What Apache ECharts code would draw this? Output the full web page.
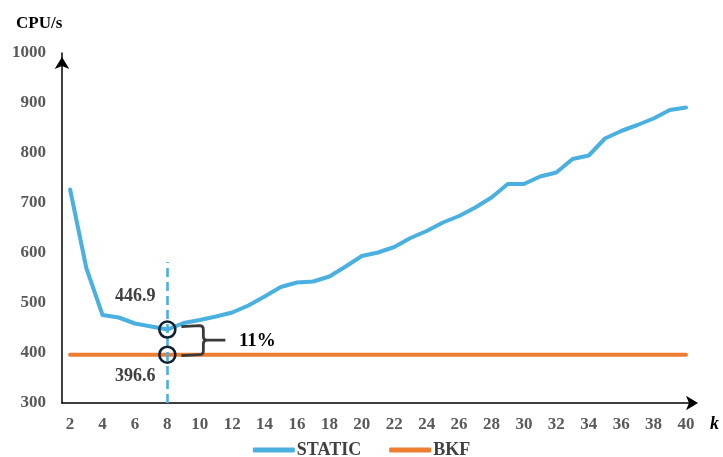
<!DOCTYPE html>
<html>
<head>
<meta charset="utf-8">
<script src="https://cdn.jsdelivr.net/npm/echarts@6/dist/echarts.min.js"></script>
<style>
  html, body { margin: 0; padding: 0; background: #fff; }
  #chart { width: 723px; height: 457px; }
</style>
</head>
<body>
<div id="chart"></div>
<script>
// Number of clusters k
const kValues = [2, 3, 4, 5, 6, 7, 8, 9, 10, 11, 12, 13, 14, 15, 16, 17, 18, 19, 20,
  21, 22, 23, 24, 25, 26, 27, 28, 29, 30, 31, 32, 33, 34, 35, 36, 37, 38, 39, 40];
// CPU time (s) of the STATIC strategy for each k
const staticCpu = [727, 570, 476, 471, 459, 453, 446.9, 460, 466, 473, 481, 495, 513, 532,
  541, 543, 553, 573, 594, 601, 612, 630, 644, 661, 674, 691, 711, 738, 738, 753, 761,
  788, 795, 829, 844, 856, 869, 886, 891];
// CPU time (s) of BKF, independent of k
const bkfCpu = [396.6, 396.6, 396.6, 396.6, 396.6, 396.6, 396.6, 396.6, 396.6, 396.6,
  396.6, 396.6, 396.6, 396.6, 396.6, 396.6, 396.6, 396.6, 396.6, 396.6, 396.6, 396.6,
  396.6, 396.6, 396.6, 396.6, 396.6, 396.6, 396.6, 396.6, 396.6, 396.6, 396.6, 396.6,
  396.6, 396.6, 396.6, 396.6, 396.6];
// Tick labels
const xTicks = [2, 4, 6, 8, 10, 12, 14, 16, 18, 20, 22, 24, 26, 28, 30, 32, 34, 36, 38, 40];
// Highlighted comparison at k = 8
const focusK = 8;
const focusStatic = 446.9;
const focusBkf = 396.6;
const gapLabel = '11%';
const guideTop = 582;

const SERIF = '"Liberation Serif", "Times New Roman", serif';
const BLUE = '#49B0E0';
const ORANGE = '#ED7D31';

const chart = echarts.init(document.getElementById('chart'));

chart.setOption({
  animation: false,
  backgroundColor: '#fff',
  title: {
    text: 'CPU/s',
    left: 11,
    top: 10,
    textStyle: { fontFamily: SERIF, fontWeight: 'bold', fontSize: 17, color: '#000' }
  },
  grid: { left: 62, right: 31, top: 53, bottom: 54, containLabel: false },
  legend: {
    data: ['STATIC', 'BKF'],
    top: 441,
    left: 'center',
    padding: 0,
    icon: 'roundRect',
    itemWidth: 42,
    itemHeight: 5,
    itemGap: 28,
    textStyle: { fontFamily: SERIF, fontWeight: 'bold', fontSize: 18, color: '#404040', padding: [0, 0, 0, -3] }
  },
  xAxis: {
    type: 'value',
    min: 1.5,
    max: 40.37,
    name: 'k',
    nameLocation: 'end',
    nameGap: 18,
    nameTextStyle: {
      fontFamily: SERIF, fontWeight: 'bold', fontStyle: 'italic', fontSize: 18,
      color: '#000', verticalAlign: 'top', padding: [12, 0, 0, 0]
    },
    axisLine: {
      show: true,
      lineStyle: { color: '#000', width: 1.5 },
      symbol: ['none', 'arrow'],
      symbolSize: [11, 12],
      symbolOffset: [0, 6]
    },
    axisTick: { show: false },
    splitLine: { show: false },
    axisLabel: {
      customValues: xTicks,
      margin: 13,
      fontFamily: SERIF, fontWeight: 'bold', fontSize: 17, color: '#595959'
    }
  },
  yAxis: {
    type: 'value',
    min: 300,
    max: 1000,
    interval: 100,
    axisLine: {
      show: true,
      lineStyle: { color: '#000', width: 1.5 },
      symbol: ['none', 'arrow'],
      symbolSize: [11, 12],
      symbolOffset: [0, -4]
    },
    axisTick: { show: false },
    splitLine: { show: false },
    axisLabel: {
      margin: 16,
      formatter: v => String(v),
      fontFamily: SERIF, fontWeight: 'bold', fontSize: 17, color: '#595959'
    }
  },
  series: [
    {
      name: 'STATIC',
      type: 'line',
      data: kValues.map((k, i) => [k, staticCpu[i]]),
      showSymbol: false,
      lineStyle: { color: BLUE, width: 4, cap: 'round', join: 'round' },
      itemStyle: { color: BLUE },
      z: 3
    },
    {
      name: 'BKF',
      type: 'line',
      data: kValues.map((k, i) => [k, bkfCpu[i]]),
      showSymbol: false,
      lineStyle: { color: ORANGE, width: 4, cap: 'round' },
      itemStyle: { color: ORANGE },
      z: 2
    },
    {
      // Circled points at k = 8 with their values
      name: 'focus',
      type: 'scatter',
      symbol: 'circle',
      symbolSize: 16,
      itemStyle: { color: 'rgba(0,0,0,0)', borderColor: '#0F2233', borderWidth: 2.6, opacity: 1 },
      z: 5,
      data: [
        { value: [focusK, focusStatic], label: { offset: [-32, -33] } },
        { value: [focusK, focusBkf], label: { offset: [-32, 22] } }
      ],
      label: {
        show: true,
        position: 'inside',
        formatter: p => p.value[1].toFixed(1),
        fontFamily: SERIF, fontWeight: 'bold', fontSize: 18, color: '#404040'
      },
      markLine: {
        silent: true,
        symbol: 'none',
        label: { show: false },
        lineStyle: { color: BLUE, width: 2.6, type: [9, 5], opacity: 1 },
        data: [[{ coord: [focusK, 300] }, { coord: [focusK, guideTop] }]]
      }
    },
    {
      // Brace marking the gap between the two strategies
      name: 'gap',
      type: 'custom',
      clip: false,
      z: 6,
      encode: { x: 0, y: [1, 2] },
      data: [[focusK, focusStatic, focusBkf]],
      renderItem: function (params, api) {
        const top = api.coord([api.value(0), api.value(1)]);
        const bot = api.coord([api.value(0), api.value(2)]);
        const x0 = top[0] + 14;
        const x1 = top[0] + 36;
        const xt = top[0] + 58;
        const yt = top[1] - 4;
        const yb = bot[1];
        const ym = (yt + yb) / 2;
        const r = 4;
        const d = [
          'M', x0, yt + 1, 'L', x1 - r, yt, 'Q', x1, yt, x1, yt + r,
          'L', x1, ym - r, 'Q', x1, ym, x1 + r, ym, 'L', xt, ym,
          'M', x1 + r, ym, 'Q', x1, ym, x1, ym + r,
          'L', x1, yb - r, 'Q', x1, yb, x1 - r, yb, 'L', x0, yb + 1
        ].join(' ');
        return {
          type: 'group',
          children: [
            {
              type: 'path',
              shape: { pathData: d },
              style: { fill: 'none', stroke: '#3A3A3A', lineWidth: 2.8 }
            },
            {
              type: 'text',
              style: {
                x: xt + 32, y: ym + 1, text: gapLabel,
                fontFamily: SERIF, fontWeight: 'bold', fontSize: 19, fill: '#000',
                align: 'center', verticalAlign: 'middle'
              }
            }
          ]
        };
      }
    }
  ]
});
</script>
</body>
</html>
